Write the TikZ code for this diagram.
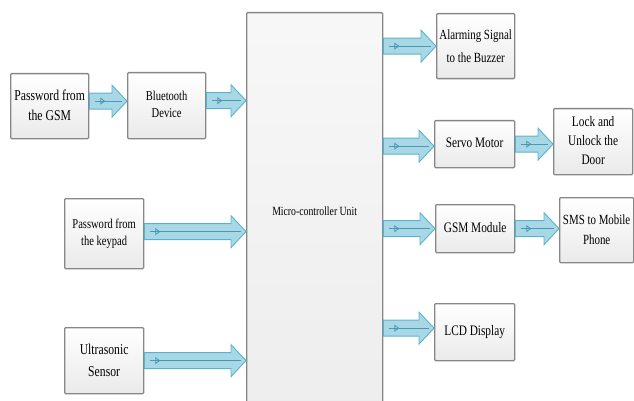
\documentclass[tikz,border=0pt]{standalone}
\usepackage{fontspec}
\setmainfont{Liberation Serif}
\usepackage{graphicx}
\usetikzlibrary{calc,arrows.meta,decorations.markings}
\definecolor{flechafondo}{RGB}{168,216,229}
\definecolor{flechaborde}{RGB}{92,178,204}
\definecolor{flechalinea}{RGB}{72,152,182}
\definecolor{cajaborde}{RGB}{135,135,135}
\definecolor{cajafondo}{RGB}{234,234,234}
\newcommand{\angosto}[1]{\scalebox{0.78}[1]{\begin{tabular}{@{}c@{}}#1\end{tabular}}}
\newcommand{\flujo}[2]{%
  \draw[flechacuerpo] let \p1=(#1), \p2=(#2) in
    (\x1,\y1+8pt) -- (\x2-15pt,\y1+8pt) -- (\x2-15pt,\y1+16pt) -- (\x2,\y1)
    -- (\x2-15pt,\y1-16pt) -- (\x2-15pt,\y1-8pt) -- (\x1,\y1-8pt) -- cycle;
  \draw[flechaeje] let \p1=(#1), \p2=(#2) in (\x1+6pt,\y1) -- (\x2-5pt,\y1);
}

\begin{document}
\begin{tikzpicture}[x=1pt, y=-1pt,
    caja/.style={draw=cajaborde, line width=1.3pt, rounded corners=1pt,
      top color=white, bottom color=cajafondo, inner sep=0pt, anchor=north west},
    flechacuerpo/.style={draw=flechaborde, fill=flechafondo, line width=0.9pt, line join=miter},
    flechaeje/.style={draw=flechalinea, line width=0.8pt,
      decoration={markings, mark=at position 10pt with
        {\arrow[flechalinea,line width=0.8pt]{Triangle[open,length=5pt,width=7pt]}}},
      postaction={decorate}}]
    \clip (0,0) rectangle (634,401);
    \node[caja, minimum width=136pt, minimum height=400pt, top color=white!97!black, bottom color=white!93!black,
      font=\fontsize{12.5}{15}\selectfont] (mcu) at (246,12) {\angosto{Micro-controller Unit}};
    \node[caja, minimum width=78pt, minimum height=65pt, font=\fontsize{15}{20}\selectfont]
      (pwgsm) at (10,73) {\angosto{Password from\\the GSM}};
    \node[caja, minimum width=78pt, minimum height=66pt, font=\fontsize{13.5}{17}\selectfont]
      (bt) at (127,72) {\angosto{Bluetooth\\Device}};
    \node[caja, minimum width=79pt, minimum height=70pt, font=\fontsize{13.5}{17}\selectfont]
      (pwkey) at (64,198) {\angosto{Password from\\the keypad}};
    \node[caja, minimum width=79pt, minimum height=66pt, font=\fontsize{15}{22}\selectfont]
      (ultra) at (64,327) {\angosto{Ultrasonic\\Sensor}};
    \node[caja, minimum width=78pt, minimum height=65pt, font=\fontsize{14}{23}\selectfont]
      (alarm) at (436,13) {\angosto{Alarming Signal\\to the Buzzer}};
    \node[caja, minimum width=80pt, minimum height=47pt, font=\fontsize{14.5}{18}\selectfont]
      (servo) at (434,120) {\angosto{Servo Motor}};
    \node[caja, minimum width=79pt, minimum height=66pt, font=\fontsize{14.5}{19}\selectfont]
      (lock) at (553,108) {\angosto{Lock and\\Unlock the\\Door}};
    \node[caja, minimum width=79pt, minimum height=48pt, font=\fontsize{14.5}{18}\selectfont]
      (gsm) at (435,204) {\angosto{GSM Module}};
    \node[caja, minimum width=74pt, minimum height=65pt, font=\fontsize{14}{20}\selectfont]
      (sms) at (559,197) {\angosto{SMS to Mobile\\Phone}};
    \node[caja, minimum width=80pt, minimum height=57pt, font=\fontsize{14.5}{18}\selectfont]
      (lcd) at (434,303) {\angosto{LCD Display}};
    \flujo{$(pwgsm.east)+(0,-5)$}{bt.west}
    \flujo{$(bt.east)+(0,-5)$}{mcu.west}
    \flujo{$(pwkey.east)+(0,-2)$}{mcu.west}
    \flujo{ultra.east}{mcu.west}
    \flujo{alarm.west -| mcu.east}{alarm.west}
    \flujo{$(servo.west -| mcu.east)+(0,2)$}{servo.west}
    \flujo{servo.east}{lock.west}
    \flujo{gsm.west -| mcu.east}{gsm.west}
    \flujo{gsm.east}{sms.west}
    \flujo{$(lcd.west -| mcu.east)+(0,-4)$}{lcd.west}
\end{tikzpicture}
\end{document}
